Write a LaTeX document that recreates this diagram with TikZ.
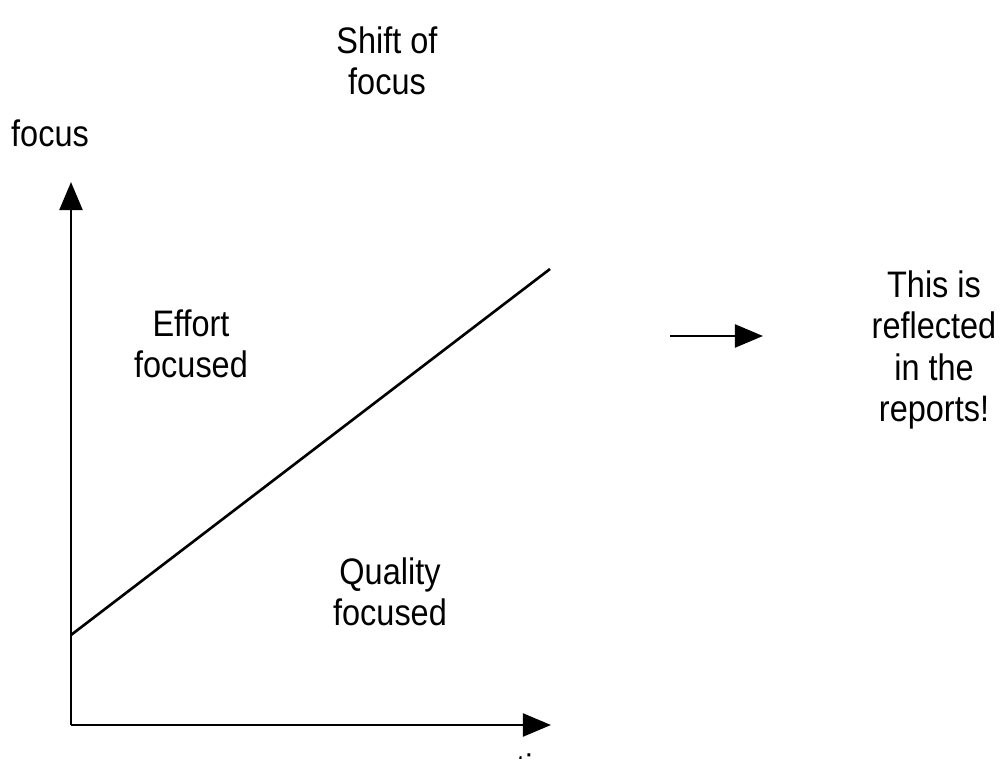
\documentclass[tikz,border=0pt]{standalone}
\usepackage{fontspec}
\setmainfont{Liberation Sans}[FakeStretch=0.88]
\usetikzlibrary{arrows.meta}
\begin{document}
\begin{tikzpicture}[x=0.02cm,y=-0.02cm,
  lbl/.style={align=center,font=\fontsize{21pt}{23.5pt}\selectfont,inner sep=0pt},
  axis/.style={line width=1.7pt,-{Triangle[length=16pt,width=13pt]}},
  ln/.style={line width=1.5pt}]
\useasboundingbox (0,0) rectangle (1000,759);
\coordinate (o) at (71,725);
\coordinate (ytip) at (71,182);
\coordinate (xtip) at (551,725);
\coordinate (d1) at (71,635);
\coordinate (d2) at (550,269);
\coordinate (a1) at (670,336);
\coordinate (a2) at (763,336);
\node[lbl] (title) at (387,61) {Shift of\\focus};
\node[lbl] (ylab) at (50,133) {focus};
\node[lbl,anchor=base] (xlab) at (547,780) {time};
\node[lbl] (effort) at (191,344) {Effort\\focused};
\node[lbl] (quality) at (390,592) {Quality\\focused};
\node[lbl] (note) at (934,350) {This is\\reflected\\in the\\reports!};
\draw[axis] (o) -- (ytip);
\draw[axis] (o) -- (xtip);
\draw[ln] (d1) -- (d2);
\draw[axis] (a1) -- (a2);
\end{tikzpicture}
\end{document}
